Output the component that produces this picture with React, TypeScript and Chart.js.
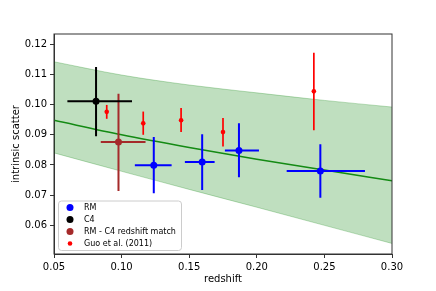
import React, { useEffect, useRef } from "react";
import { Chart, registerables } from "chart.js";
Chart.register(...registerables);

const xTicks = [0.05, 0.1, 0.15, 0.2, 0.25, 0.3];
const yTicks = [0.06, 0.07, 0.08, 0.09, 0.1, 0.11, 0.12];

// RM
const rmZ = [0.1238, 0.1596, 0.1868, 0.247];
const rmScatter = [0.0799, 0.081, 0.0848, 0.078];
const rmZLo = [0.1098, 0.1468, 0.1764, 0.2221];
const rmZHi = [0.137, 0.1688, 0.2016, 0.28];
const rmScatterLo = [0.0706, 0.0717, 0.0759, 0.0691];
const rmScatterHi = [0.0893, 0.0902, 0.0938, 0.0869];

// C4
const c4Z = [0.0811];
const c4Scatter = [0.1011];
const c4ZLo = [0.0599];
const c4ZHi = [0.1077];
const c4ScatterLo = [0.0895];
const c4ScatterHi = [0.1125];

// RM - C4 redshift match
const matchZ = [0.0977];
const matchScatter = [0.0876];
const matchZLo = [0.0846];
const matchZHi = [0.1177];
const matchScatterLo = [0.0714];
const matchScatterHi = [0.1036];

// Guo et al. (2011)
const guoZ = [0.089, 0.116, 0.144, 0.175, 0.2422];
const guoScatter = [0.0976, 0.0938, 0.0948, 0.0909, 0.1044];
const guoScatterLo = [0.0953, 0.09, 0.0909, 0.0861, 0.0915];
const guoScatterHi = [0.0999, 0.0977, 0.0989, 0.0956, 0.1172];

// fit and band
const fitZ = [0.05, 0.1, 0.15, 0.2, 0.25, 0.3];
const fitScatter = [0.0948, 0.09, 0.0858, 0.0819, 0.0783, 0.0748];
const bandHi = [0.1142, 0.1098, 0.1065, 0.1039, 0.1014, 0.0992];
const bandLo = [0.084, 0.0779, 0.0719, 0.066, 0.06, 0.054];

const FONT = "DejaVu Sans";

function pts(z: number[], y: number[], zLo?: number[], zHi?: number[], yLo?: number[], yHi?: number[]) {
  return z.map((v, i) => ({
    x: v,
    y: y[i],
    xMin: zLo ? zLo[i] : v,
    xMax: zHi ? zHi[i] : v,
    yMin: yLo ? yLo[i] : y[i],
    yMax: yHi ? yHi[i] : y[i],
  }));
}

export default function App() {
  const ref = useRef<HTMLCanvasElement>(null);
  useEffect(() => {
    document.body.style.margin = "0";
    const errorBars = {
      id: "errorBars",
      beforeDatasetDraw(chart: any, args: any) {
        const ds: any = chart.data.datasets[args.index];
        if (!ds.errorColor) return;
        const ctx = chart.ctx;
        const xs = chart.scales.x;
        const ys = chart.scales.y;
        ctx.save();
        ctx.strokeStyle = ds.errorColor;
        ctx.lineWidth = ds.errorWidth;
        ctx.lineCap = "butt";
        ds.data.forEach((p: any) => {
          const px = xs.getPixelForValue(p.x);
          const py = ys.getPixelForValue(p.y);
          ctx.beginPath();
          if (p.xMin !== p.xMax) {
            ctx.moveTo(xs.getPixelForValue(p.xMin), py);
            ctx.lineTo(xs.getPixelForValue(p.xMax), py);
          }
          ctx.moveTo(px, ys.getPixelForValue(p.yMin));
          ctx.lineTo(px, ys.getPixelForValue(p.yMax));
          ctx.stroke();
        });
        ctx.restore();
      },
    };
    const frameLegend = {
      id: "frameLegend",
      afterDraw(chart: any) {
        const ctx = chart.ctx;
        const a = chart.chartArea;
        ctx.save();
        ctx.strokeStyle = "#333";
        ctx.lineWidth = 1;
        ctx.strokeRect(a.left, a.top, a.right - a.left, a.bottom - a.top);
        // legend
        const items = chart.data.datasets.filter((d: any) => d.inLegend);
        const bx = a.left + 4, bw = 123, bh = 49.5;
        const by = a.bottom - 4 - bh;
        ctx.fillStyle = "rgba(255,255,255,0.8)";
        ctx.strokeStyle = "#cccccc";
        ctx.beginPath();
        (ctx as any).roundRect(bx + 0.5, by + 0.5, bw, bh, 3);
        ctx.fill();
        ctx.stroke();
        ctx.font = `8px "${FONT}"`;
        ctx.textBaseline = "middle";
        ctx.textAlign = "left";
        items.forEach((d: any, i: number) => {
          const cy = by + 7 + i * 12;
          ctx.fillStyle = d.backgroundColor;
          ctx.beginPath();
          ctx.arc(a.left + 16, cy, d.pointRadius, 0, Math.PI * 2);
          ctx.fill();
          ctx.fillStyle = "#000";
          ctx.fillText(d.label, a.left + 30, cy + 0.5);
        });
        ctx.restore();
      },
    };
    const tickFont = { family: FONT, size: 10 };
    const chart = new Chart(ref.current!, {
      type: "scatter",
      data: {
        datasets: [
          {
            label: "RM",
            data: pts(rmZ, rmScatter, rmZLo, rmZHi, rmScatterLo, rmScatterHi),
            backgroundColor: "#0000ff",
            borderWidth: 0,
            pointRadius: 3.5,
            errorColor: "#0000ff",
            errorWidth: 2,
            inLegend: true,
            order: 1,
          } as any,
          {
            label: "C4",
            data: pts(c4Z, c4Scatter, c4ZLo, c4ZHi, c4ScatterLo, c4ScatterHi),
            backgroundColor: "#000000",
            borderWidth: 0,
            pointRadius: 3.5,
            errorColor: "#000000",
            errorWidth: 2,
            inLegend: true,
            order: 2,
          },
          {
            label: "RM - C4 redshift match",
            data: pts(matchZ, matchScatter, matchZLo, matchZHi, matchScatterLo, matchScatterHi),
            backgroundColor: "#a52a2a",
            borderWidth: 0,
            pointRadius: 3.5,
            errorColor: "#a52a2a",
            errorWidth: 2,
            inLegend: true,
            order: 3,
          },
          {
            label: "Guo et al. (2011)",
            data: pts(guoZ, guoScatter, undefined, undefined, guoScatterLo, guoScatterHi),
            backgroundColor: "#ff0000",
            borderWidth: 0,
            pointRadius: 2.3,
            errorColor: "#ff0000",
            errorWidth: 1.7,
            inLegend: true,
            order: 4,
          },
          {
            type: "line",
            label: "fit",
            data: fitZ.map((z, i) => ({ x: z, y: fitScatter[i] })),
            borderColor: "#138a13",
            borderWidth: 1.5,
            pointRadius: 0,
            fill: false,
            cubicInterpolationMode: "monotone",
            order: 5,
          },
          {
            type: "line",
            label: "bandHi",
            data: fitZ.map((z, i) => ({ x: z, y: bandHi[i] })),
            borderColor: "rgba(0,128,0,0.25)",
            backgroundColor: "rgba(0,128,0,0.25)",
            borderWidth: 1,
            pointRadius: 0,
            fill: "+1",
            cubicInterpolationMode: "monotone",
            order: 6,
          },
          {
            type: "line",
            label: "bandLo",
            data: fitZ.map((z, i) => ({ x: z, y: bandLo[i] })),
            borderColor: "rgba(0,128,0,0.25)",
            borderWidth: 1,
            pointRadius: 0,
            fill: false,
            cubicInterpolationMode: "monotone",
            order: 7,
          },
        ] as any,
      },
      options: {
        animation: false,
        responsive: false,
        layout: { padding: { left: 0, right: 44, top: 34, bottom: 0 } },
        plugins: { legend: { display: false }, tooltip: { enabled: false } },
        scales: {
          x: {
            type: "linear",
            min: 0.05,
            max: 0.3,
            afterBuildTicks: (s: any) => {
              s.ticks = xTicks.map((v) => ({ value: v }));
            },
            afterFit: (s: any) => {
              s.height = 37;
            },
            ticks: {
              callback: (v: any) => Number(v).toFixed(2),
              font: tickFont,
              color: "#000",
              maxRotation: 0,
              autoSkip: false,
              padding: 3,
            },
            grid: { drawOnChartArea: false, tickLength: 4, color: "#333" },
            border: { color: "#333" },
            title: { display: true, text: "redshift", font: tickFont, color: "#000", padding: { top: 0, bottom: 6 } },
          },
          y: {
            type: "linear",
            min: 0.0505,
            max: 0.1234,
            afterBuildTicks: (s: any) => {
              s.ticks = yTicks.map((v) => ({ value: v }));
            },
            afterFit: (s: any) => {
              s.width = 54;
            },
            ticks: {
              callback: (v: any) => Number(v).toFixed(2),
              font: tickFont,
              color: "#000",
              autoSkip: false,
              padding: 3,
            },
            grid: { drawOnChartArea: false, tickLength: 4, color: "#333" },
            border: { color: "#333" },
            title: { display: true, text: "intrinsic scatter", font: tickFont, color: "#000", padding: { top: 10, bottom: 0 } },
          },
        },
      } as any,
      plugins: [errorBars, frameLegend],
    });
    return () => chart.destroy();
  }, []);
  return (
    <div style={{ width: 436, height: 291 }}>
      <canvas ref={ref} width={436} height={291} style={{ display: "block" }} />
    </div>
  );
}
